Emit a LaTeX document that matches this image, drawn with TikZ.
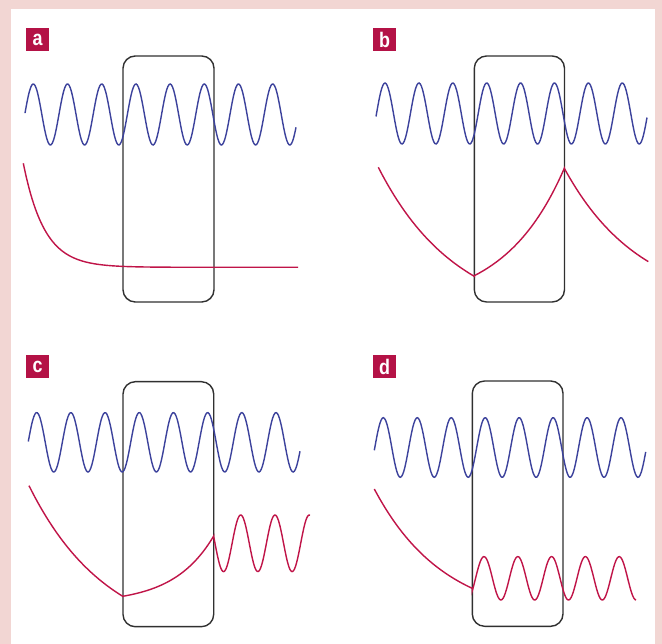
\documentclass[tikz,border=0pt]{standalone}
\usepackage{fontspec}
\usepackage{xcolor}
\usepackage{tikz}
\newfontfamily\tagfont[FakeStretch=0.85]{Liberation Sans}

\definecolor{paperpink}{RGB}{242,214,211}
\definecolor{wavblue}{RGB}{60,66,156}
\definecolor{ampred}{RGB}{192,20,72}
\definecolor{tagred}{RGB}{180,18,70}
\definecolor{boxgrey}{RGB}{48,48,48}

\begin{document}
\begin{tikzpicture}[x=0.02cm, y=-0.02cm,
    wave/.style={line width=0.8pt, wavblue},
    amp/.style={line width=0.8pt, ampred},
    barrier/.style={line width=0.8pt, boxgrey, rounded corners=7pt},
    paneltag/.style={fill=tagred, text=white, minimum size=13pt, inner sep=0pt,
      font=\tagfont\bfseries\fontsize{12}{12}\selectfont}]
  \useasboundingbox (0,0) rectangle (662,644);
  \fill[paperpink] (0,0) rectangle (662,644);
  \fill[white] (10.5,9) rectangle (654.5,644);

  % panel labels
  \node[paneltag] (taga) at (37.5,39.5) {a};
  \node[paneltag] (tagb) at (384.5,39.5) {b};
  \node[paneltag] (tagc) at (37.5,366.7) {c};
  \node[paneltag] (tagd) at (384.5,366.7) {d};

  % barriers
  \draw[barrier] (123,56) rectangle (214,302);
  \draw[barrier] (474.3,56) rectangle (564.5,302);
  \draw[barrier] (123,381.7) rectangle (213.7,626.7);
  \draw[barrier] (472.3,381) rectangle (563,626.3);

  % incident waves
  \draw[wave] plot[domain=25:296, samples=240, smooth] (\x, {114.5-30.5*cos((\x-33.3)*10.526)});
  \draw[wave] plot[domain=376:647, samples=240, smooth] (\x, {113.5-30.5*cos((\x-385)*10.62)});
  \draw[wave] plot[domain=28.3:300, samples=240, smooth] (\x, {442.3-29.7*cos((\x-36.7)*10.53)});
  \draw[wave] plot[domain=374.3:645.7, samples=240, smooth] (\x, {447.5-29.8*cos((\x-383.3)*10.6)});

  % a: decays to zero
  \draw[amp] plot[domain=23.3:298, samples=160, smooth] (\x, {267.3-104*exp(-(\x-23.3)/21)});

  % b: rises again inside, falls after
  \draw[amp] plot[domain=378.3:474.3, samples=60, smooth] (\x, {167.3+155*(1-exp(-(\x-378.3)/79))})
    -- plot[domain=474.3:564.3, samples=60, smooth] (\x, {275.7-30.85*(exp((\x-474.3)/60)-1)})
    -- plot[domain=564.3:648.3, samples=60, smooth] (\x, {168.3+139.5*(1-exp(-(\x-564.3)/76))});

  % c: transmitted wave after barrier
  \draw[amp] plot[domain=29:122.7, samples=60, smooth] (\x, {485.7+159.2*(1-exp(-(\x-29)/79))})
    -- plot[domain=122.7:213.7, samples=60, smooth] (\x, {596.3-6.91*(exp((\x-122.7)/40)-1)})
    -- plot[domain=213.7:310, samples=120, smooth] (\x, {543.3-28.3*cos((\x-240.7)*10.5)});

  % d: oscillates inside barrier
  \draw[amp] plot[domain=374.3:472.3, samples=60, smooth] (\x, {489+131.9*(1-exp(-(\x-374.3)/70))})
    -- plot[domain=472.3:636, samples=160, smooth] (\x, {578.3-21.7*cos((\x-484)*10.65)});
\end{tikzpicture}
\end{document}
